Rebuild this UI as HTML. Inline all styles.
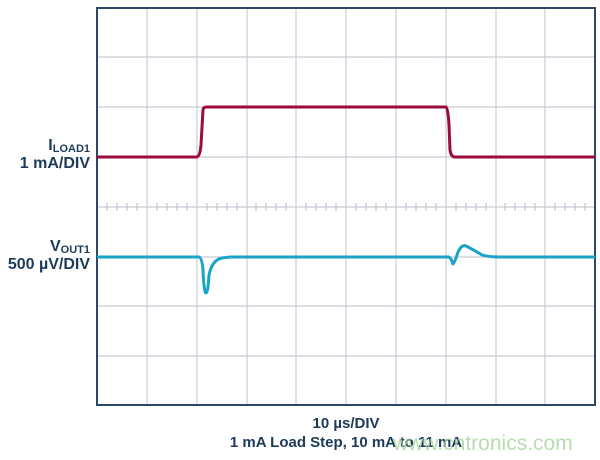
<!DOCTYPE html>
<html><head><meta charset="utf-8"><style>
html,body{margin:0;padding:0;background:#fff;}
svg{display:block;}
text{font-family:"Liberation Sans",Arial,sans-serif;font-weight:bold;fill:#1e3a5a;}
</style></head><body>
<svg width="600" height="460" viewBox="0 0 600 460" xmlns="http://www.w3.org/2000/svg">
<g stroke="#c8cdd4" stroke-width="1.2">
<line x1="147" y1="8" x2="147" y2="405"/><line x1="197" y1="8" x2="197" y2="405"/>
<line x1="247" y1="8" x2="247" y2="405"/><line x1="296" y1="8" x2="296" y2="405"/>
<line x1="346" y1="8" x2="346" y2="405"/><line x1="396" y1="8" x2="396" y2="405"/>
<line x1="446" y1="8" x2="446" y2="405"/><line x1="496" y1="8" x2="496" y2="405"/>
<line x1="545" y1="8" x2="545" y2="405"/>
<line x1="97" y1="57" x2="595" y2="57"/><line x1="97" y1="107" x2="595" y2="107"/>
<line x1="97" y1="157" x2="595" y2="157"/><line x1="97" y1="207" x2="595" y2="207"/>
<line x1="97" y1="257" x2="595" y2="257"/><line x1="97" y1="306" x2="595" y2="306"/>
<line x1="97" y1="356" x2="595" y2="356"/>
</g>
<path stroke="#c0c5cc" stroke-width="1.2" d="M107 203v8M117 203v8M127 203v8M137 203v8M157 203v8M167 203v8M177 203v8M187 203v8M207 203v8M217 203v8M227 203v8M237 203v8M256 203v8M266 203v8M276 203v8M286 203v8M306 203v8M316 203v8M326 203v8M336 203v8M356 203v8M366 203v8M376 203v8M386 203v8M406 203v8M416 203v8M426 203v8M436 203v8M456 203v8M466 203v8M476 203v8M486 203v8M505 203v8M515 203v8M525 203v8M535 203v8M555 203v8M565 203v8M575 203v8M585 203v8"/>
<rect x="97" y="8" width="498" height="397" fill="none" stroke="#2b4a68" stroke-width="2"/>
<path d="M97 157 L197 157 Q200 156 201 145 L203 110 Q203 107 207 107 L446 107 Q448 108 449 125 L450 150 Q451 157 455 157 L595 157" fill="none" stroke="#9b0b3d" stroke-width="3" stroke-linejoin="round"/>
<path d="M97 257 L199 257 Q202 258 203 270 Q204 293 206 293 Q208 293 209 275 Q212 260 222 258 L230 257 L449 257 Q451 258 453 264 Q455 262 458 252 Q462 244 466 246 Q474 250 482 255 Q488 257 500 257 L595 257" fill="none" stroke="#1aa5c8" stroke-width="3" stroke-linejoin="round"/>
<text x="90" y="150" font-size="16" text-anchor="end">I<tspan font-size="11" dy="2">LOAD1</tspan></text>
<text x="90" y="168" font-size="16" text-anchor="end">1 mA/DIV</text>
<text x="90" y="251" font-size="16" text-anchor="end">V<tspan font-size="11" dy="2">OUT1</tspan></text>
<text x="90" y="269" font-size="16" text-anchor="end">500 µV/DIV</text>
<text x="346" y="428" font-size="15" text-anchor="middle">10 µs/DIV</text>
<text x="346" y="447" font-size="15" text-anchor="middle">1 mA Load Step, 10 mA to 11 mA</text>
<text x="393" y="450" font-size="21" style="font-weight:normal;fill:#a8d4a0;opacity:0.8">www.cntronics.com</text>
</svg>
</body></html>
